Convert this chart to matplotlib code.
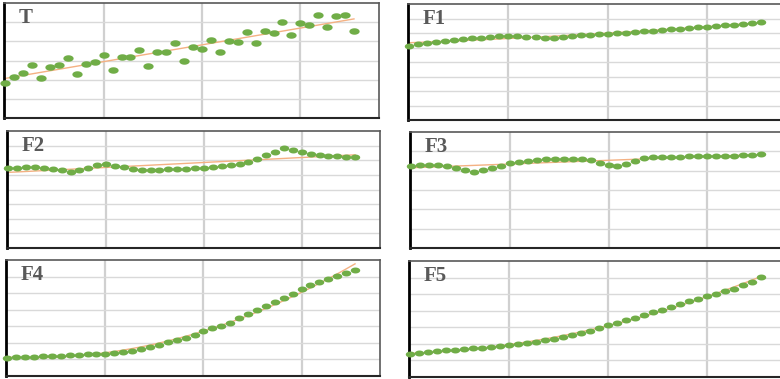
import numpy as np
import matplotlib
matplotlib.use("Agg")
import matplotlib.pyplot as plt
from matplotlib.path import Path

# ---------------- data ----------------
panel_names = ["T", "F1", "F2", "F3", "F4", "F5"]

T_values = [1.81, 2.16, 2.33, 2.78, 2.09, 2.64, 2.75, 3.15, 2.28, 2.83,
            2.90, 3.29, 2.52, 3.17, 3.18, 3.55, 2.71, 3.44, 3.44, 3.93,
            2.99, 3.72, 3.60, 4.07, 3.46, 4.03, 3.95, 4.50, 3.91, 4.52,
            4.45, 5.02, 4.35, 4.96, 4.87, 5.37, 4.76, 5.34, 5.37, 4.52]

F1_values = [5.13, 5.22, 5.29, 5.36, 5.43, 5.49, 5.56, 5.63, 5.68, 5.72,
             5.77, 5.79, 5.79, 5.75, 5.70, 5.66, 5.66, 5.70, 5.77, 5.84,
             5.89, 5.91, 5.93, 5.98, 6.02, 6.07, 6.11, 6.16, 6.21, 6.25,
             6.30, 6.34, 6.39, 6.44, 6.48, 6.53, 6.57, 6.64, 6.71, 6.78]

F2_values = [5.49, 5.49, 5.51, 5.53, 5.49, 5.42, 5.30, 5.21, 5.33, 5.49,
             5.65, 5.76, 5.62, 5.53, 5.42, 5.35, 5.35, 5.35, 5.37, 5.39,
             5.42, 5.46, 5.49, 5.51, 5.58, 5.67, 5.76, 5.90, 6.10, 6.33,
             6.58, 6.81, 6.70, 6.58, 6.45, 6.38, 6.31, 6.29, 6.24, 6.22]

F3_values = [4.26, 4.28, 4.29, 4.31, 4.24, 4.14, 4.05, 3.95, 4.03, 4.14,
             4.24, 4.40, 4.47, 4.52, 4.57, 4.62, 4.62, 4.60, 4.62, 4.60,
             4.55, 4.41, 4.31, 4.22, 4.34, 4.48, 4.64, 4.72, 4.72, 4.72,
             4.72, 4.74, 4.74, 4.74, 4.74, 4.76, 4.78, 4.79, 4.81, 4.84]

F4_values = [1.11, 1.13, 1.15, 1.17, 1.19, 1.21, 1.23, 1.25, 1.27, 1.31,
             1.33, 1.35, 1.39, 1.45, 1.53, 1.63, 1.73, 1.87, 2.03, 2.17,
             2.31, 2.47, 2.72, 2.88, 3.02, 3.22, 3.48, 3.74, 3.98, 4.25,
             4.49, 4.73, 4.95, 5.25, 5.49, 5.69, 5.84, 6.04, 6.24, 6.40]

F5_values = [1.37, 1.45, 1.51, 1.57, 1.61, 1.65, 1.69, 1.73, 1.77, 1.81,
             1.85, 1.92, 1.98, 2.06, 2.14, 2.22, 2.30, 2.40, 2.52, 2.64,
             2.76, 2.94, 3.15, 3.27, 3.41, 3.57, 3.77, 3.93, 4.07, 4.23,
             4.42, 4.58, 4.72, 4.88, 5.02, 5.18, 5.34, 5.54, 5.75, 6.05]

# y-axis top (number of horizontal grid intervals) for each panel
y_tops = [6, 8, 8, 6, 7, 7]
# polynomial order of each panel's trend line
trend_orders = [1, 2, 1, 1, 2, 2]

series = [T_values, F1_values, F2_values, F3_values, F4_values, F5_values]

# ---------------- styling ----------------
GREEN = "#70AD47"
ORANGE = "#F4B183"
GRID = "#D9D9D9"

W, H = 780, 379
fig = plt.figure(figsize=(W / 100, H / 100), dpi=100)
fig.patch.set_facecolor("white")

# axes boxes in pixels: (left, top, right, bottom)
boxes = [
    (4, 3, 379, 118),
    (408, 4, 786, 120),
    (7, 131, 380, 248),
    (410, 132, 786, 248),
    (6, 260, 380, 376),
    (409, 261, 786, 377),
]

# elliptical marker (wider than tall)
t = np.linspace(0, 2 * np.pi, 40)
ell = Path(np.column_stack([np.cos(t), 0.63 * np.sin(t)]), closed=True)

for i, (name, vals, ytop, order, box) in enumerate(
        zip(panel_names, series, y_tops, trend_orders, boxes)):
    l, tp, r, b = box
    ax = fig.add_axes([l / W, (H - b) / H, (r - l) / W, (b - tp) / H])
    x = np.arange(len(vals))
    y = np.array(vals)

    ax.set_xlim(-0.15, 41.8)
    ax.set_ylim(0, ytop)
    ax.set_xticks([11, 22, 33])
    ax.set_yticks(np.arange(1, ytop))
    ax.tick_params(length=0, labelbottom=False, labelleft=False)
    ax.grid(axis="x", color="#D0D0D0", lw=1.6, zorder=0)
    ax.grid(axis="y", color=GRID, lw=1.0, zorder=0)
    ax.set_axisbelow(True)

    coef = np.polyfit(x, y, order)
    xs = np.linspace(x[0], x[-1], 200)
    ax.plot(xs, np.polyval(coef, xs), color=ORANGE, lw=1.0, zorder=2)

    ms = 7.4 if i == 0 else 6.8
    ax.plot(x, y, linestyle="none", marker=ell, markersize=ms,
            color=GREEN, markeredgewidth=0, zorder=3, clip_on=False)

    for s in ["top", "right"]:
        ax.spines[s].set_color("#595959")
        ax.spines[s].set_linewidth(1.2)
    ax.spines["left"].set_color("black")
    ax.spines["left"].set_linewidth(2.0)
    ax.spines["bottom"].set_color("#262626")
    ax.spines["bottom"].set_linewidth(1.5)

    ax.text(0.04, 0.87, name, transform=ax.transAxes, ha="left", va="center",
            fontsize=15, fontweight="bold", family=["Liberation Serif", "DejaVu Serif"],
            color="#595959", zorder=5)

fig.savefig("out.png", dpi=100, facecolor="white")
